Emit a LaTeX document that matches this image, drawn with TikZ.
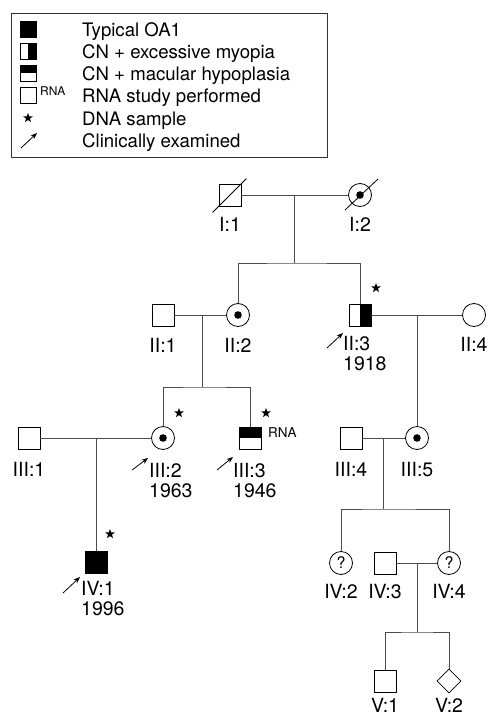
\documentclass[tikz,border=0pt]{standalone}
\usepackage{fontspec}
\setmainfont{TeX Gyre Heros}
\usetikzlibrary{positioning,shapes.geometric,arrows.meta}
\tikzset{
	male/.style={draw, rectangle, minimum size=22pt, inner sep=0pt, line width=0.8pt, fill=white},
	female/.style={draw, circle, minimum size=23pt, inner sep=0pt, line width=0.8pt, fill=white},
	nosex/.style={draw, diamond, aspect=1, minimum size=24pt, inner sep=0pt, line width=0.8pt, fill=white},
	legsym/.style={draw, rectangle, minimum size=16pt, inner sep=0pt, line width=0.8pt, fill=white},
	oa/.style={fill=black},
	myopia/.style={path picture={\fill[black] (path picture bounding box.north) rectangle (path picture bounding box.south east);}},
	hypoplasia/.style={path picture={\fill[black] (path picture bounding box.west) rectangle (path picture bounding box.north east);}},
	carrier/.style={path picture={\fill[black] (path picture bounding box.center) circle (3.8pt);}},
	dna/.style={star, star points=5, star point ratio=2.4, fill=black, inner sep=0pt, minimum size=10pt},
	idlab/.style={inner sep=0pt, font=\fontsize{19.5}{20}\selectfont},
	idyear/.style={idlab, anchor=north west, align=left},
	legtext/.style={anchor=base west, inner sep=0pt, font=\fontsize{18.6}{22}\selectfont},
	rna/.style={anchor=west, inner sep=0pt},
	examined/.style={-{Stealth[length=6.5pt,width=5pt]}, line width=0.8pt},
	link/.style={draw=black!70, line width=0.9pt}
}

\begin{document}
\begin{tikzpicture}[x=1pt, y=-1pt]
	\useasboundingbox[fill=white] (0,0) rectangle (487,719);

	% legend
	\draw[line width=0.9pt, draw=black!80] (11,13) rectangle (327,157);
	\node[legsym, oa] (leg-oa) at (28,29) {};
	\node[legsym, myopia] (leg-myopia) at (28,51) {};
	\node[legsym, hypoplasia] (leg-hypo) at (28,73) {};
	\node[legsym] (leg-rna) at (28,95) {};
	\node[rna, font=\fontsize{12}{12}\selectfont] (leg-rna-txt) at (40,91) {RNA};
	\node[dna] (leg-dna) at (28,118) {};
	\coordinate (leg-exam) at (29,140);
	\draw[examined] ([shift={(-8pt,-8pt)}]leg-exam) -- ([shift={(8pt,7pt)}]leg-exam);
	\node[legtext] (leg-oa-txt) at (82,37) {Typical OA1};
	\node[legtext] (leg-myopia-txt) at (82,59) {CN + excessive myopia};
	\node[legtext] (leg-hypo-txt) at (82,81) {CN + macular hypoplasia};
	\node[legtext] (leg-rna-txt2) at (82,103) {RNA study performed};
	\node[legtext] (leg-dna-txt) at (82,126) {DNA sample};
	\node[legtext] (leg-exam-txt) at (82,148) {Clinically examined};

	% generation I
	\node[male] (I-1) at (230,195) {};
	\node[female, carrier] (I-2) at (360,195) {};
	\draw[line width=0.8pt] ([shift={(-6pt,-6pt)}]I-1.south west) -- ([shift={(5pt,5pt)}]I-1.north east);
	\draw[line width=0.8pt] ([shift={(-15pt,-15pt)}]I-2.center) -- ([shift={(18pt,16pt)}]I-2.center);
	\node[idlab, below=11pt of I-1] (I-1-lab) {I:1};
	\node[idlab, below=10pt of I-2] (I-2-lab) {I:2};

	% generation II
	\node[male] (II-1) at (163,315) {};
	\node[female, carrier] (II-2) at (238,315) {};
	\node[male, myopia] (II-3) at (360,315) {};
	\node[female] (II-4) at (474,315) {};
	\node[idlab, below=12pt of II-1] (II-1-lab) {II:1};
	\node[idlab, below=11pt of II-2] (II-2-lab) {II:2};
	\node[idlab, below=10pt of II-4] (II-4-lab) {II:4};
	\node[idyear] (II-3-lab) at (343,336) {II:3\\1918};
	\node[dna] (II-3-dna) at (376,288) {};

	% generation III
	\node[male] (III-1) at (29,438) {};
	\node[female, carrier] (III-2) at (163,438) {};
	\node[male, hypoplasia] (III-3) at (250,438) {};
	\node[male] (III-4) at (351,438) {};
	\node[female, carrier] (III-5) at (417,438) {};
	\node[idlab, below=13pt of III-1] (III-1-lab) {III:1};
	\node[idlab, below=13pt of III-4] (III-4-lab) {III:4};
	\node[idlab, below=12pt of III-5] (III-5-lab) {III:5};
	\node[idyear] (III-2-lab) at (149,463) {III:2\\1963};
	\node[idyear] (III-3-lab) at (233,463) {III:3\\1946};
	\node[rna, font=\fontsize{13.5}{14}\selectfont] (III-3-rna) at (268,433) {RNA};
	\node[dna] (III-2-dna) at (179,413) {};
	\node[dna] (III-3-dna) at (266,413) {};

	% generation IV
	\node[male, oa] (IV-1) at (96,562) {};
	\node[female, font=\fontsize{16}{16}\selectfont] (IV-2) at (341,563) {?};
	\node[male] (IV-3) at (385,563) {};
	\node[female, font=\fontsize{16}{16}\selectfont] (IV-4) at (449,563) {?};
	\node[idyear] (IV-1-lab) at (81,581) {IV:1\\1996};
	\node[idlab, below=9pt of IV-2] (IV-2-lab) {IV:2};
	\node[idlab, below=10pt of IV-3] (IV-3-lab) {IV:3};
	\node[idlab, below=9pt of IV-4] (IV-4-lab) {IV:4};
	\node[dna] (IV-1-dna) at (110,534) {};

	% generation V
	\node[male] (V-1) at (385,681) {};
	\node[nosex] (V-2) at (449,681) {};
	\node[idlab, below=6pt of V-1] (V-1-lab) {V:1};
	\node[idlab, below=5pt of V-2] (V-2-lab) {V:2};

	% matings and sibships
	\coordinate (I-m) at (294,195);
	\coordinate (I-s) at (294,263);
	\draw[link] (I-1) -- (I-2);
	\draw[link] (I-m) -- (I-s);
	\draw[link] (II-2) |- (I-s) -| (II-3);

	\coordinate (II-12-m) at (202,315);
	\coordinate (II-12-s) at (202,387);
	\draw[link] (II-1) -- (II-2);
	\draw[link] (II-12-m) -- (II-12-s);
	\draw[link] (III-2) |- (II-12-s) -| (III-3);

	\coordinate (II-34-m) at (417,315);
	\draw[link] (II-3) -- (II-4);
	\draw[link] (II-34-m) -- (III-5);

	\coordinate (III-12-m) at (96,438);
	\draw[link] (III-1) -- (III-2);
	\draw[link] (III-12-m) -- (IV-1);

	\coordinate (III-45-m) at (383,438);
	\coordinate (III-45-s) at (383,509);
	\draw[link] (III-4) -- (III-5);
	\draw[link] (III-45-m) -- (III-45-s);
	\draw[link] (IV-2) |- (III-45-s) -| (IV-4);

	\coordinate (IV-34-m) at (417,563);
	\coordinate (IV-34-s) at (417,632);
	\draw[link] (IV-3) -- (IV-4);
	\draw[link] (IV-34-m) -- (IV-34-s);
	\draw[link] (V-1) |- (IV-34-s) -| (V-2);

	% clinically examined
	\draw[examined] ([shift={(-16pt,-12pt)}]II-3-lab.north west) -- ([shift={(0pt,3pt)}]II-3-lab.north west);
	\draw[examined] ([shift={(-17pt,-7pt)}]III-2-lab.north west) -- ([shift={(-1pt,5pt)}]III-2-lab.north west);
	\draw[examined] ([shift={(-16pt,-7pt)}]III-3-lab.north west) -- ([shift={(0pt,6pt)}]III-3-lab.north west);
	\draw[examined] ([shift={(-18pt,-12pt)}]IV-1-lab.north west) -- ([shift={(-1pt,4pt)}]IV-1-lab.north west);
\end{tikzpicture}
\end{document}
